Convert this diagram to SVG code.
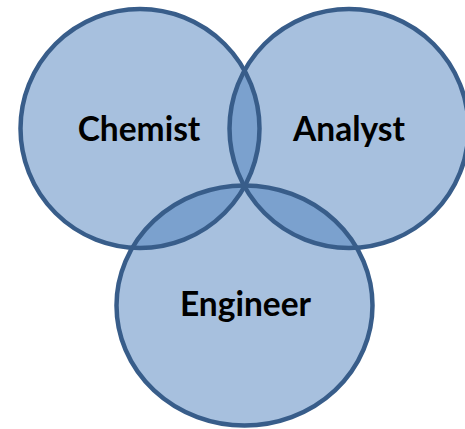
<svg xmlns="http://www.w3.org/2000/svg" width="465" height="429" viewBox="0 0 465 429">
  <style>
    .set-fill { fill: #4F81BD; fill-opacity: 0.5; stroke: none; }
    .set-line { fill: none; stroke: #385D8A; stroke-width: 4.5; }
    .label { font-family: Lato, "Open Sans", "Liberation Sans", sans-serif; font-weight: bold; font-size: 33.5px; fill: #000; text-anchor: middle; }
  </style>
  <defs>
    <circle id="shape-chemist" cx="140" cy="128.5" r="119.5"/>
    <circle id="shape-analyst" cx="349" cy="128.5" r="119.5"/>
    <ellipse id="shape-engineer" cx="244.5" cy="305.5" rx="128" ry="120"/>
  </defs>
  <rect width="465" height="429" fill="#FFFFFF"/>

  <g id="chemist">
    <use href="#shape-chemist" class="set-fill"/>
    <text class="label" x="139" y="141">Chemist</text>
  </g>
  <g id="analyst">
    <use href="#shape-analyst" class="set-fill"/>
    <text class="label" x="349" y="141">Analyst</text>
  </g>
  <g id="engineer">
    <use href="#shape-engineer" class="set-fill"/>
    <text class="label" x="245.5" y="316">Engineer</text>
  </g>

  <!-- outlines drawn above every fill -->
  <g id="outlines">
    <use href="#shape-chemist" class="set-line"/>
    <use href="#shape-analyst" class="set-line"/>
    <use href="#shape-engineer" class="set-line"/>
  </g>
</svg>
